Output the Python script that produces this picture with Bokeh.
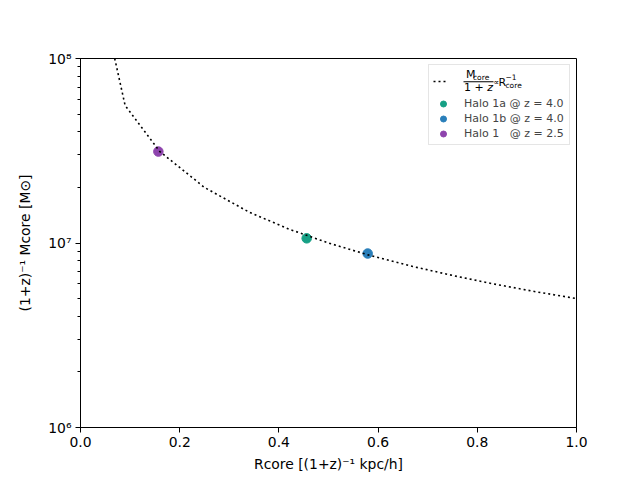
from bokeh.plotting import figure
from bokeh.models import (FixedTicker, LogTicker, PrintfTickFormatter, CustomJSTickFormatter,
                          Legend, LegendItem, Range1d, Label, BoxAnnotation)
from bokeh.embed import file_html
from bokeh.resources import INLINE

# Relation line M_core/(1+z) ∝ R_core^-1
line_r = [0.069, 0.09, 0.16, 0.25, 0.34, 0.42, 0.50, 0.58, 0.67, 0.75, 0.83, 0.92, 1.00]
line_m = [1.0e8, 5.56e7, 3.13e7, 2.0e7, 1.47e7, 1.19e7, 1.0e7, 8.62e6, 7.46e6, 6.67e6, 6.02e6, 5.43e6, 5.0e6]

# Halo points
halo_names = ["Halo 1a @ z = 4.0", "Halo 1b @ z = 4.0", "Halo 1   @ z = 2.5"]
halo_r = [0.456, 0.579, 0.157]
halo_m = [1.06e7, 8.77e6, 3.13e7]
halo_colors = ["#16a085", "#2a7fba", "#8e44ad"]

x_ticks = [0.0, 0.2, 0.4, 0.6, 0.8, 1.0]
x_label = "Rcore [(1+z)⁻¹ kpc/h]"
y_label = "(1+z)⁻¹ Mcore [M⊙]"

FONT = "DejaVu Sans"
FS = 13.9          # main font size (px)

p = figure(frame_width=496, frame_height=369, y_axis_type="log",
           x_range=Range1d(0, 1), y_range=Range1d(1e6, 1e8),
           output_backend="svg", toolbar_location=None,
           min_border_left=80, min_border_right=48, min_border_top=58, min_border_bottom=45)

p.grid.visible = False
p.outline_line_color = "black"
p.outline_line_width = 1
p.background_fill_color = "white"
p.border_fill_color = "white"

for ax in (p.xaxis[0], p.yaxis[0]):
    ax.axis_line_color = "black"
    ax.major_tick_line_color = "black"
    ax.minor_tick_line_color = "black"
    ax.major_tick_in = 0
    ax.major_tick_out = 5
    ax.minor_tick_in = 0
    ax.minor_tick_out = 3
    ax.major_label_text_font = FONT
    ax.major_label_text_font_size = f"{FS}px"
    ax.major_label_text_color = "black"
    ax.major_label_standoff = 4
    ax.axis_label_text_font = FONT
    ax.axis_label_text_font_size = f"{FS}px"
    ax.axis_label_text_font_style = "normal"
    ax.axis_label_text_color = "black"

p.xaxis.ticker = FixedTicker(ticks=x_ticks, minor_ticks=[])
p.xaxis.formatter = PrintfTickFormatter(format="%.1f")
p.xaxis.axis_label = x_label
p.xaxis.axis_label_standoff = 6

p.yaxis.ticker = LogTicker(num_minor_ticks=10)
p.yaxis.formatter = CustomJSTickFormatter(code="""
const s = {"0":"⁰","1":"¹","2":"²","3":"³","4":"⁴","5":"⁵","6":"⁶","7":"⁷","8":"⁸","9":"⁹","-":"⁻"};
const e = Math.round(Math.log10(tick));
return "10" + String(e).split("").map(c => s[c]).join("");
""")
p.yaxis.axis_label = y_label
p.yaxis.axis_label_standoff = 12

pts = []
for name, r, m, c in zip(halo_names, halo_r, halo_m, halo_colors):
    g = p.scatter([r], [m], size=9.5, fill_color=c, line_color=c, marker="circle")
    pts.append((name, g))

ln = p.line(line_r, line_m, line_color="black", line_width=1.6, line_dash="2 3")

# Legend: box + halo entries
leg_halo = Legend(items=[LegendItem(label=n, renderers=[g]) for n, g in pts], location="top_right")
leg_halo.margin = 6
leg_halo.padding = 3
leg_halo.spacing = 0
leg_halo.label_text_font = FONT
leg_halo.label_text_font_size = "11px"
leg_halo.label_height = 15
leg_halo.glyph_height = 15
leg_halo.glyph_width = 22
leg_halo.label_width = 102
leg_halo.label_standoff = 10
leg_halo.title = " "
leg_halo.title_text_font_size = "12px"
leg_halo.title_standoff = 14
leg_halo.border_line_color = "#cccccc"
leg_halo.border_line_width = 1
leg_halo.background_fill_alpha = 0
p.add_layout(leg_halo)

# Legend: line entry (first row, taller)
leg_line = Legend(items=[LegendItem(label=" ", renderers=[ln])], location="top_right")
leg_line.margin = 6
leg_line.padding = 3
leg_line.label_text_font_size = "11px"
leg_line.label_height = 28
leg_line.glyph_height = 28
leg_line.glyph_width = 13
leg_line.label_width = 111
leg_line.label_standoff = 10
leg_line.border_line_alpha = 0
leg_line.background_fill_alpha = 0
p.add_layout(leg_line)

# Rich text of the first legend entry (screen units, relative to the frame)
def txt(x, y, t, size, align="left", style="normal"):
    p.add_layout(Label(x=x, y=y, x_units="screen", y_units="screen", text=t,
                       text_font=FONT, text_font_size=f"{size}px", text_align=align,
                       text_baseline="middle", text_font_style=style, text_color="black"))

txt(385.5, 353.5, "M", 11)
txt(392.5, 350.5, "core", 7.5)
p.add_layout(BoxAnnotation(left=383, right=413, bottom=345.2, top=346.2,
                           left_units="screen", right_units="screen",
                           bottom_units="screen", top_units="screen",
                           fill_color="black", fill_alpha=1, line_alpha=0))
txt(383.6, 340, "1 + ", 11)
txt(406.8, 340, "z", 11, style="italic")
txt(415.5, 345, "∝", 8, align="center")
txt(418, 345.5, "R", 11)
txt(425, 342, "core", 7.5)
txt(425, 351, "−1", 7.5)

open("out.html", "w").write(file_html(p, INLINE))
